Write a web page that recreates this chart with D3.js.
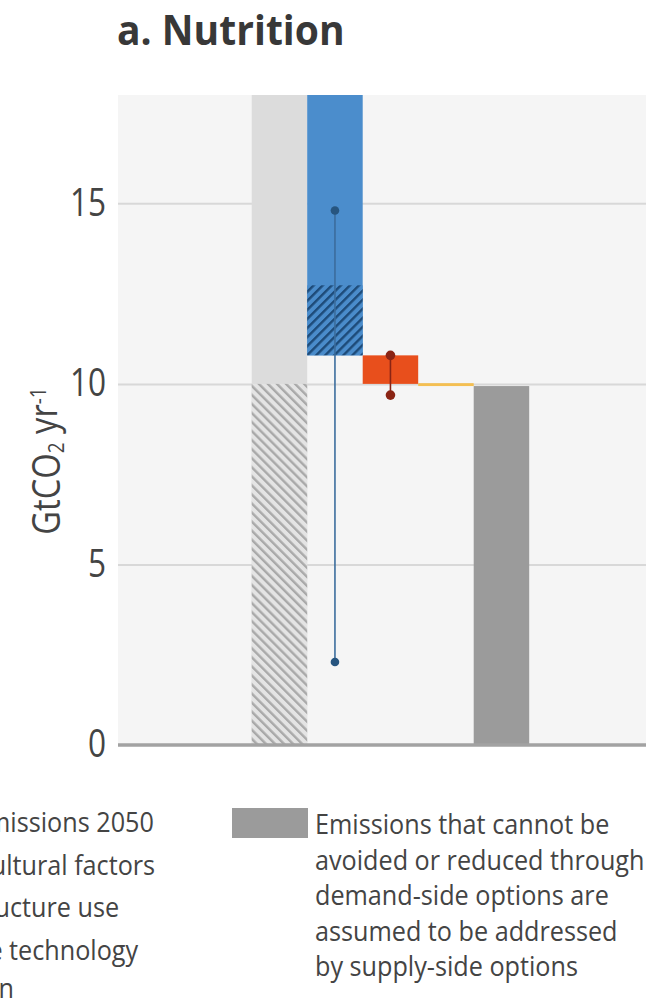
<!DOCTYPE html>
<html>
<head>
<meta charset="utf-8">
<script src="https://cdn.jsdelivr.net/npm/d3@7"></script>
<style>
  body { margin: 0; background: #fff; }
  svg { display: block; }
  text { font-family: "Open Sans", sans-serif; }
</style>
</head>
<body>
<svg id="chart" width="646" height="1001"></svg>
<script>
// ---- data (GtCO2 per year) ----
var categories = ['Total emissions 2050', 'Socio-cultural factors', 'Infrastructure use',
                  'End-use technology adoption', 'Remaining emissions'];
var barBottom = [0, 10.79, 10.0, 9.94, 0];
var barTop = [18.6, 18.6, 10.79, 10.02, 9.94];
var hatchBottom = [0, 10.79, null, null, null];
var hatchTop = [10.0, 12.73, null, null, null];
var rangeLow = [null, 2.3, 9.69, null, null];
var rangeHigh = [null, 14.8, 10.79, null, null];
var yTicks = [0, 5, 10, 15];
var legendLeft = [['Total emissions 2050'], ['Socio-cultural factors'], ['Infrastructure use'],
                  ['End-use technology', 'adoption']];
var legendRight = ['Emissions that cannot be', 'avoided or reduced through',
                   'demand-side options are', 'assumed to be addressed', 'by supply-side options'];

// ---- layout ----
var svg = d3.select('#chart');
var plot = { left: 118, right: 646, top: 95, bottom: 745 };
var y = d3.scaleLinear().domain([0, 18]).range([plot.bottom, plot.top]);
var x = d3.scaleBand().domain(categories).range([251.7, 529.2]).padding(0);

var fills = ['#dcdcdc', '#4b8dcc', '#e84f1c', '#f4bf52', '#9b9b9b'];
var hatches = [
  { id: 'hatch-grey', bg: '#e4e4e4', line: '#a9a9a9', angle: -45 },
  { id: 'hatch-blue', bg: '#4a8ccb', line: '#1d4a78', angle: 45 }
];
var whiskerColors = [null, '#3b6d9d', '#8a2414'];
var dotColors = [null, '#27557f', '#8a2414'];

var rows = categories.map((c, i) => ({
  cat: c, i: i,
  lo: barBottom[i], hi: barTop[i],
  hlo: hatchBottom[i], hhi: hatchTop[i],
  rlo: rangeLow[i], rhi: rangeHigh[i]
}));

var defs = svg.append('defs');
defs.append('clipPath').attr('id', 'plot-clip')
  .append('rect')
  .attr('x', plot.left).attr('y', plot.top)
  .attr('width', plot.right - plot.left).attr('height', plot.bottom - plot.top);

hatches.forEach(h => {
  var p = defs.append('pattern')
    .attr('id', h.id)
    .attr('patternUnits', 'userSpaceOnUse')
    .attr('width', 6.4).attr('height', 6.4)
    .attr('patternTransform', `rotate(${h.angle})`);
  p.append('rect').attr('width', 6.4).attr('height', 6.4).attr('fill', h.bg);
  p.append('line').attr('x1', 1.2).attr('x2', 1.2).attr('y1', 0).attr('y2', 6.4)
    .attr('stroke', h.line).attr('stroke-width', 2.4);
});

// plot background
svg.append('rect')
  .attr('x', plot.left).attr('y', plot.top)
  .attr('width', plot.right - plot.left).attr('height', plot.bottom - plot.top)
  .attr('fill', '#f5f5f5');

// gridlines
var grid = svg.append('g')
  .attr('transform', `translate(${plot.left},0)`)
  .call(d3.axisLeft(y).tickValues(yTicks.filter(t => t > 0))
    .tickSize(-(plot.right - plot.left)).tickFormat(''));
grid.select('.domain').remove();
grid.selectAll('line').attr('stroke', '#d8d8d8').attr('stroke-width', 2);

// tick labels
var axis = svg.append('g')
  .attr('transform', `translate(${plot.left},0)`)
  .call(d3.axisLeft(y).tickValues(yTicks).tickSize(0).tickPadding(12));
axis.select('.domain').remove();
axis.selectAll('text')
  .attr('x', null).attr('dy', '0.3em')
  .attr('transform', 'translate(-12,0) scale(0.81,1)')
  .style('font-size', '39px').attr('fill', '#444');

// bars
var bars = svg.append('g').attr('clip-path', 'url(#plot-clip)');
bars.selectAll('rect.bar')
  .data(rows).enter().append('rect')
  .attr('class', 'bar')
  .attr('x', d => x(d.cat))
  .attr('width', x.bandwidth())
  .attr('y', d => y(d.hi))
  .attr('height', d => y(d.lo) - y(d.hi))
  .attr('fill', d => fills[d.i]);

bars.selectAll('rect.hatch')
  .data(rows.filter(d => d.hhi !== null)).enter().append('rect')
  .attr('class', 'hatch')
  .attr('x', d => x(d.cat))
  .attr('width', x.bandwidth())
  .attr('y', d => y(d.hhi))
  .attr('height', d => y(d.hlo) - y(d.hhi))
  .attr('fill', (d, k) => `url(#${hatches[k].id})`);

// ranges
var ranges = svg.append('g');
var rr = rows.filter(d => d.rhi !== null);
ranges.selectAll('line')
  .data(rr).enter().append('line')
  .attr('x1', d => x(d.cat) + x.bandwidth() / 2)
  .attr('x2', d => x(d.cat) + x.bandwidth() / 2)
  .attr('y1', d => y(d.rhi))
  .attr('y2', d => y(d.rlo))
  .attr('stroke', d => whiskerColors[d.i])
  .attr('stroke-width', 1.6);
ranges.selectAll('circle')
  .data(rr.flatMap(d => [{ d: d, v: d.rhi }, { d: d, v: d.rlo }])).enter().append('circle')
  .attr('cx', e => x(e.d.cat) + x.bandwidth() / 2)
  .attr('cy', e => y(e.v))
  .attr('r', e => e.d.i === 2 ? 4.8 : 4.3)
  .attr('fill', e => dotColors[e.d.i]);

// baseline axis
svg.append('line')
  .attr('x1', plot.left).attr('x2', plot.right)
  .attr('y1', y(0)).attr('y2', y(0))
  .attr('stroke', '#a2a2a2').attr('stroke-width', 3.5);

// y axis title
var yt = svg.append('text')
  .attr('transform', 'translate(60,461) rotate(-90) scale(0.86,1)')
  .attr('text-anchor', 'middle')
  .style('font-size', '38px').attr('fill', '#444');
yt.append('tspan').text('GtCO');
yt.append('tspan').attr('dy', '0.18em').style('font-size', '22px').text('2');
yt.append('tspan').attr('dy', '-0.18em').text(' yr');
yt.append('tspan').attr('dy', '-0.5em').style('font-size', '22px').text('-1');

// title
svg.append('text')
  .attr('transform', 'translate(117,45) scale(0.93,1)')
  .style('font-size', '42px').style('font-weight', 'bold')
  .attr('fill', '#383838')
  .text('a. Nutrition');

// legend (left column, cut off by the panel edge as in the source)
var ll = svg.append('g');
var lineY = 832;
legendLeft.forEach((entry, i) => {
  entry.forEach((t, j) => {
    if (j > 0) lineY += 38;
    ll.append('text')
      .attr('transform', `translate(-92,${lineY}) scale(0.9,1)`)
      .style('font-size', '28px').attr('fill', '#444')
      .text(t);
  });
  lineY += 42.5;
});

// legend (right column)
svg.append('rect')
  .attr('x', 232).attr('y', 808).attr('width', 76).attr('height', 30)
  .attr('fill', fills[4]);
svg.append('g').selectAll('text')
  .data(legendRight).enter().append('text')
  .attr('transform', (d, i) => `translate(315,${834 + i * 35.5}) scale(0.9,1)`)
  .style('font-size', '28px').attr('fill', '#444')
  .text(d => d);
</script>
</body>
</html>
